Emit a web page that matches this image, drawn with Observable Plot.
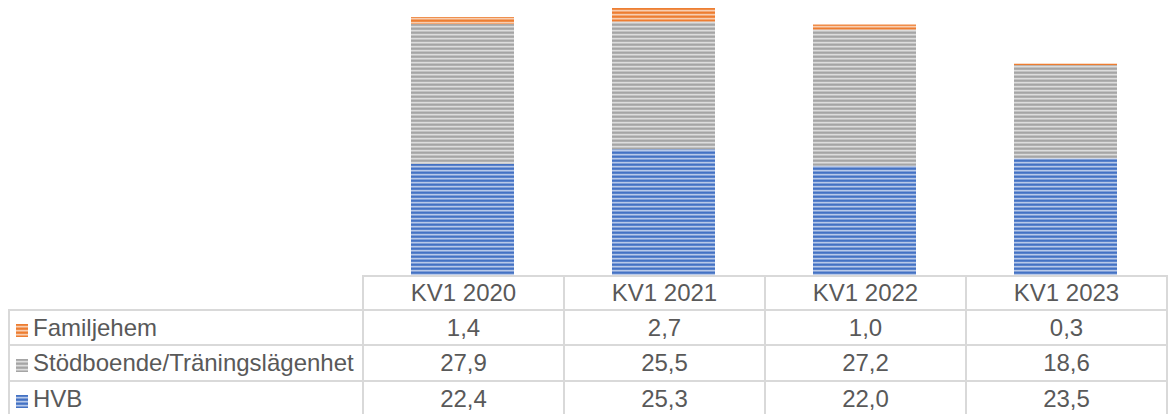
<!DOCTYPE html>
<html>
<head>
<meta charset="utf-8">
<script src="https://cdn.jsdelivr.net/npm/d3@7"></script>
<script src="https://cdn.jsdelivr.net/npm/@observablehq/plot@0.6"></script>
<style>
  html, body { margin: 0; padding: 0; background: #fff; }
  #wrap { position: relative; width: 1171px; height: 414px; overflow: hidden; font-family: "Liberation Sans", Arial, sans-serif; }
  #chart { position: absolute; left: 0; top: 0; }
  table { position: absolute; left: 8px; top: 275px; border-collapse: collapse; table-layout: fixed; color: #595959; font-size: 24px; }
  td { border: 2px solid #d9d9d9; padding: 0; text-align: center; line-height: 1; white-space: nowrap; }
  td.lab { text-align: left; padding-left: 6px; }
  td.blank { border-top: none; border-left: none; border-bottom: 2px solid #d9d9d9; }
  .key { display: inline-block; width: 12px; height: 13px; margin-right: 5px; vertical-align: -1px; }
</style>
</head>
<body>
<div id="wrap">
  <div id="chart"></div>
  <table id="tbl"></table>
</div>
<script>
const categories = ["KV1 2020", "KV1 2021", "KV1 2022", "KV1 2023"];
const seriesNames = ["HVB", "Stödboende/Träningslägenhet", "Familjehem"];
const hvb = [22.4, 25.3, 22.0, 23.5];
const stodboende = [27.9, 25.5, 27.2, 18.6];
const familjehem = [1.4, 2.7, 1.0, 0.3];

const seriesValues = [hvb, stodboende, familjehem];
const baseColors = ["#4472C4", "#A5A5A5", "#ED7D31"];
const patternIds = ["p-blue", "p-gray", "p-orange"];

const data = [];
seriesNames.forEach((s, si) => {
  categories.forEach((c, ci) => data.push({category: c, series: s, value: seriesValues[si][ci]}));
});

const chart = Plot.plot({
  width: 1171,
  height: 276,
  marginLeft: 362,
  marginRight: 5,
  marginTop: 0,
  marginBottom: 0,
  x: {domain: categories, paddingInner: 0.4876, paddingOuter: 0.2438, axis: null},
  y: {domain: [0, 55.1], axis: null},
  color: {domain: seriesNames, range: patternIds.map(id => `url(#${id})`)},
  marks: [
    Plot.barY(data, {x: "category", y: "value", fill: "series", inset: 0})
  ]
});

function mix(hex, t) {
  const c = d3.rgb(hex);
  const w = d3.rgb("#ffffff");
  return d3.rgb(c.r + (w.r - c.r) * t, c.g + (w.g - c.g) * t, c.b + (w.b - c.b) * t).formatHex();
}

const shades = [0, 0.12, 0.62, 0.32];
const defs = d3.select(chart).insert("defs", ":first-child");
baseColors.forEach((col, i) => {
  const p = defs.append("pattern")
    .attr("id", patternIds[i])
    .attr("patternUnits", "userSpaceOnUse")
    .attr("width", 8).attr("height", 4);
  shades.forEach((t, k) => {
    p.append("rect").attr("x", 0).attr("y", k).attr("width", 8).attr("height", 1).attr("fill", mix(col, t));
  });
});

document.getElementById("chart").appendChild(chart);

// Data table below the chart
const fmt = v => v.toFixed(1).replace(".", ",");
const tbl = d3.select("#tbl");
const colgroup = tbl.append("colgroup");
colgroup.append("col").style("width", "354px");
categories.forEach(() => colgroup.append("col").style("width", "201px"));

const header = tbl.append("tr").style("height", "34px");
header.append("td").attr("class", "blank");
categories.forEach(c => header.append("td").text(c));

const rowHeights = [35, 36, 35];
[2, 1, 0].forEach((si, r) => {
  const tr = tbl.append("tr").style("height", rowHeights[r] + "px");
  const lab = tr.append("td").attr("class", "lab");
  const col = baseColors[si];
  const stops = shades.map((t, k) => `${mix(col, t)} ${k}px, ${mix(col, t)} ${k + 1}px`).join(", ");
  lab.append("span").attr("class", "key")
    .style("background", `repeating-linear-gradient(to bottom, ${stops})`);
  lab.append("span").text(seriesNames[si]);
  seriesValues[si].forEach(v => tr.append("td").text(fmt(v)));
});
</script>
</body>
</html>
